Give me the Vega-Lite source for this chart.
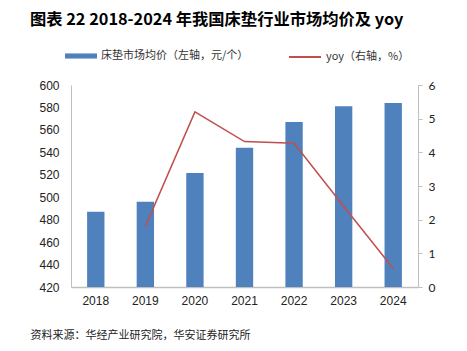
{
  "$schema": "https://vega.github.io/schema/vega-lite/v6.json",
  "width": 347,
  "height": 202,
  "autosize": "none",
  "padding": {"left": 71, "top": 85, "right": 49, "bottom": 64},
  "background": "white",
  "title": {
    "text": "图表 22 2018-2024 年我国床垫行业市场均价及 yoy",
    "anchor": "start",
    "frame": "group",
    "font": "Noto Sans CJK SC",
    "fontSize": 16.3,
    "fontWeight": "bold",
    "color": "#000000",
    "dx": -41,
    "offset": 0,
    "dy": -12
  },
  "config": {
    "view": {"stroke": null},
    "axis": {"grid": false, "labelColor": "#222222", "domainColor": "#bfbfbf", "tickColor": "#bfbfbf"}
  },
  "data": {
    "values": [
      {"year": "2018", "price": 487, "yoy": null},
      {"year": "2019", "price": 496, "yoy": 1.8},
      {"year": "2020", "price": 521.5, "yoy": 5.2},
      {"year": "2021", "price": 544, "yoy": 4.32},
      {"year": "2022", "price": 567, "yoy": 4.27},
      {"year": "2023", "price": 581, "yoy": 2.4},
      {"year": "2024", "price": 584, "yoy": 0.55}
    ]
  },
  "encoding": {
    "x": {
      "field": "year",
      "type": "nominal",
      "scale": {"paddingInner": 0.65, "paddingOuter": 0.325},
      "axis": {
        "labelAngle": 0,
        "labelFont": "Liberation Sans",
        "labelFontSize": 12,
        "labelPadding": 8,
        "ticks": false,
        "domainWidth": 1.5,
        "title": "资料来源：华经产业研究院，华安证券研究所",
        "titleFont": "Noto Sans CJK SC",
        "titleFontSize": 11,
        "titleFontWeight": "normal",
        "titleColor": "#222222",
        "titleAnchor": "start",
        "titleAlign": "left",
        "titleBaseline": "alphabetic",
        "titleX": -41,
        "titleY": 51
      }
    }
  },
  "layer": [
    {
      "mark": {"type": "bar", "color": "#4f81bd", "clip": true},
      "encoding": {
        "y": {
          "field": "price",
          "type": "quantitative",
          "scale": {"domain": [420, 600], "zero": false, "nice": false},
          "axis": {
            "title": null,
            "values": [420, 440, 460, 480, 500, 520, 540, 560, 580, 600],
            "labelFont": "Liberation Sans",
            "labelFontSize": 12,
            "ticks": false,
            "labelPadding": 12
          }
        },
        "color": {
          "datum": "床垫市场均价（左轴，元/个）",
          "scale": {"range": ["#4f81bd"]},
          "legend": {
            "orient": "none",
            "legendX": -6,
            "legendY": -45,
            "title": null,
            "symbolType": "M-1,-0.16H1V0.16H-1Z",
            "symbolSize": 1024,
            "symbolStrokeWidth": 0,
            "labelFont": "Noto Sans CJK SC",
            "labelFontSize": 11,
            "labelColor": "#333333"
          }
        }
      }
    },
    {
      "mark": {"type": "line", "strokeWidth": 1.5},
      "encoding": {
        "y": {
          "field": "yoy",
          "type": "quantitative",
          "scale": {"domain": [0, 6], "nice": false},
          "axis": {
            "orient": "right",
            "title": null,
            "values": [0, 1, 2, 3, 4, 5, 6],
            "labelFont": "Lato",
            "labelFontSize": 12,
            "tickSize": 4,
            "labelPadding": 6
          }
        },
        "stroke": {
          "datum": "yoy（右轴，%）",
          "scale": {"range": ["#c0504d"]},
          "legend": {
            "orient": "none",
            "legendX": 217,
            "legendY": -45,
            "title": null,
            "symbolType": "stroke",
            "symbolSize": 1024,
            "symbolStrokeWidth": 2,
            "labelFont": "Noto Sans CJK SC",
            "labelFontSize": 11,
            "labelColor": "#333333"
          }
        }
      }
    }
  ],
  "resolve": {"scale": {"y": "independent"}}
}
